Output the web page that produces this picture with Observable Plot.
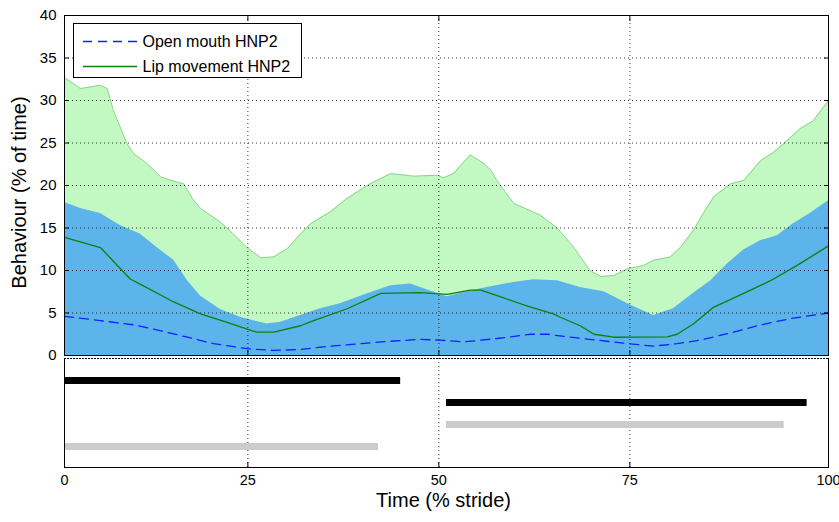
<!DOCTYPE html>
<html><head><meta charset="utf-8">
<script src="https://cdn.jsdelivr.net/npm/d3@7"></script>
<script src="https://cdn.jsdelivr.net/npm/@observablehq/plot@0.6"></script>
<style>
body{margin:0;background:#fff;font-family:"Liberation Sans",Arial,sans-serif;}
#wrap{position:relative;width:839px;height:522px;overflow:hidden;}
#wrap svg{display:block;}
#upper{position:absolute;left:0;top:0;}
#lower{position:absolute;left:0;top:355px;}
#legend{position:absolute;left:73px;top:23px;width:227px;height:53px;border:1px solid #000;background:#fff;}
</style></head>
<body>
<div id="wrap"><div id="upper"></div><div id="lower"></div><div id="legend"></div></div>
<script>
// ---- data (x in stride sample units 1..101) ----
const lipUpperX = [1,3.1,5.7,6.6,7.4,9.2,10.1,11.8,13.6,15.7,16.6,17.8,18.8,21.4,23.1,24.9,26.7,28.4,30.2,31.9,33.2,35.8,38,41,43.7,46.7,49.8,50.6,51.9,54.1,55.9,56.8,57.6,59.8,63.3,65.5,67.6,69.8,71.2,72.9,74.7,76.8,78.1,80.3,81.6,83.3,84.6,86,88.2,89.9,92.1,93.8,95.1,97.3,99,101];
const lipUpperY = [32.7,31.4,31.8,31.4,28.8,24.9,23.7,22.6,21.0,20.4,20.2,18.4,17.3,15.7,14.3,12.7,11.5,11.6,12.6,14.3,15.5,16.9,18.5,20.2,21.4,21.1,21.2,20.9,21.4,23.6,22.6,21.8,20.6,17.9,16.5,15.0,12.8,10.0,9.3,9.4,10.2,10.6,11.2,11.6,12.7,14.7,16.7,18.7,20.2,20.6,22.9,23.9,24.9,26.7,27.6,30.0];

const openUpperX = [1,3.1,5.7,8.3,10.9,13.1,15.3,17.1,18.8,21.4,24,27.5,29.3,31.9,34.5,37.1,40.1,43.7,46.3,48.9,51.1,53.7,56.3,59.8,62.4,65.5,68.5,71.6,74.7,78.1,80.7,83.3,85.6,87.8,89.9,92.1,94.3,96.4,98.6,101];
const openUpperY = [18.0,17.3,16.7,15.3,14.3,12.7,11.2,8.8,7.0,5.4,4.5,3.7,3.9,4.7,5.5,6.1,7.1,8.2,8.4,7.6,6.9,7.5,8.0,8.6,8.9,8.8,8.0,7.5,6.1,4.7,5.5,7.3,8.8,10.8,12.4,13.5,14.1,15.5,16.7,18.2];

const lipMeanX = [1,5.7,9.6,10.9,15.3,18.8,22.3,24.9,26.2,28.4,31.9,33.6,38,42.4,47.6,51.1,54.1,55.5,58.1,61.6,65,65.9,68.5,70.3,72.9,79.9,81.2,83.3,86,89.9,93.4,96.9,101];
const lipMeanY = [13.9,12.7,9.0,8.4,6.3,4.9,3.9,3.1,2.75,2.75,3.5,4.1,5.5,7.3,7.4,7.2,7.7,7.7,6.9,5.8,4.9,4.5,3.5,2.5,2.15,2.2,2.5,3.7,5.7,7.3,8.8,10.6,12.9];

const openMeanX = [1,5.7,10.1,13.6,17.1,20.5,24.9,28.4,31.7,35.8,42.4,47.6,50.2,53.3,57.6,62,64.2,67.2,70.3,74.7,78.1,81.2,84.2,88.6,92.1,96.4,101];
const openMeanY = [4.6,4.1,3.6,2.9,2.15,1.4,0.8,0.6,0.7,1.1,1.6,1.9,1.8,1.6,2.0,2.5,2.5,2.15,1.85,1.4,1.1,1.4,1.8,2.75,3.6,4.4,5.0];

// gait phase bars (lower panel)
const barRow    = [1, 2, 3, 4];
const barStart  = [1, 51, 51, 1];
const barEnd    = [45, 98.2, 95.2, 42.1];
const barSeries = ["Phase A", "Phase A", "Phase B", "Phase B"];

const seriesNames = ["Open mouth HNP2", "Lip movement HNP2"];
const xTickValues = [1, 25, 50, 75, 101];
const xTickLabels = ["0", "25", "50", "75", "100"];
const yTickValues = [0, 5, 10, 15, 20, 25, 30, 35, 40];
const xGridValues = [25, 50, 75];
const yGridValues = [5, 10, 15, 20, 25, 30, 35];
const xLabel = "Time (% stride)";
const yLabel = "Behaviour (% of time)";

const rows = (xs, ys) => xs.map((x, i) => ({x, y: ys[i]}));
const lipUpper = rows(lipUpperX, lipUpperY);
const openUpper = rows(openUpperX, openUpperY);
const lipMean = rows(lipMeanX, lipMeanY);
const openMean = rows(openMeanX, openMeanY);
const bars = barRow.map((r, i) => ({row: r, start: barStart[i], end: barEnd[i], series: barSeries[i]}));

const FONT = "Liberation Sans, Arial, Helvetica, sans-serif";
const GREEN_FILL = "#c2f8c2", BLUE_FILL = "#5cb4eb", GREEN_LINE = "#0b820b", BLUE_LINE = "#1020ff";
const gridStyle = {stroke: "#000", strokeOpacity: 0.8, strokeDasharray: "1,3", strokeWidth: 1};

const upper = Plot.plot({
  width: 839, height: 356, marginLeft: 64, marginRight: 11, marginTop: 15, marginBottom: 1,
  x: {domain: [1, 101], label: null},
  y: {domain: [0, 40], label: null},
  style: {fontFamily: FONT, color: "#000", background: "transparent", overflow: "visible"},
  marks: [
    Plot.areaY(lipUpper, {x: "x", y: "y", fill: GREEN_FILL}),
    Plot.lineY(lipUpper, {x: "x", y: "y", stroke: "#8ad68a", strokeWidth: 1}),
    Plot.areaY(openUpper, {x: "x", y: "y", fill: BLUE_FILL}),
    Plot.gridX(xGridValues, gridStyle),
    Plot.gridY(yGridValues, gridStyle),
    Plot.lineY(lipMean, {x: "x", y: "y", stroke: GREEN_LINE, strokeWidth: 1.3}),
    Plot.lineY(openMean, {x: "x", y: "y", stroke: BLUE_LINE, strokeWidth: 1.3, strokeDasharray: "9,6"}),
    Plot.axisY(yTickValues, {anchor: "left", tickSize: 0, tickPadding: 8, fontSize: 15}),
    Plot.axisY(yTickValues, {anchor: "left", tickSize: -5, text: null}),
    Plot.axisY(yTickValues, {anchor: "right", tickSize: -5, text: null}),
    Plot.axisX(xTickValues, {anchor: "top", tickSize: -5, text: null}),
    Plot.axisX(xTickValues, {anchor: "bottom", tickSize: -5, text: null}),
    Plot.frame({stroke: "#000", strokeWidth: 1}),
    Plot.text([yLabel], {text: d => d, frameAnchor: "left", textAnchor: "middle", rotate: -90, dx: -39, dy: 7, fontSize: 20, lineAnchor: "bottom"})
  ]
});
document.getElementById("upper").appendChild(upper);

const lower = Plot.plot({
  width: 839, height: 167, marginLeft: 64, marginRight: 11, marginTop: 3, marginBottom: 55,
  x: {domain: [1, 101], label: null},
  y: {type: "point", domain: barRow, padding: 0.9, align: 0.51, label: null, axis: null},
  color: {domain: ["Phase A", "Phase B"], range: ["#000000", "#cccccc"]},
  style: {fontFamily: FONT, color: "#000", background: "transparent", overflow: "visible"},
  marks: [
    Plot.gridX(xGridValues, gridStyle),
    Plot.ruleY(bars, {y: "row", x1: "start", x2: "end", stroke: "series", strokeWidth: 7}),
    Plot.axisX(xTickValues, {anchor: "bottom", tickSize: 0, tickPadding: 7, fontSize: 14.5,
      tickFormat: d => xTickLabels[xTickValues.indexOf(d)]}),
    Plot.axisX(xTickValues, {anchor: "bottom", tickSize: -5, text: null}),
    Plot.frame({anchor: "left", stroke: "#000"}),
    Plot.frame({anchor: "right", stroke: "#000"}),
    Plot.frame({anchor: "bottom", stroke: "#000"}),
    Plot.frame({anchor: "top", stroke: "#000", strokeDasharray: "1,2"}),
    Plot.text([xLabel], {text: d => d, frameAnchor: "bottom", dx: -3, dy: 39, fontSize: 20, lineAnchor: "bottom"})
  ]
});
document.getElementById("lower").appendChild(lower);

// legend (inside the upper axes, top-left)
const lg = d3.select("#legend").append("svg").attr("width", 227).attr("height", 53)
  .style("font-family", FONT).style("font-size", "16px");
const legendItems = [
  {name: seriesNames[0], color: BLUE_LINE, dash: "9,6"},
  {name: seriesNames[1], color: GREEN_LINE, dash: null}
];
legendItems.forEach((it, i) => {
  const cy = 17.5 + i * 25;
  lg.append("line").attr("x1", 9).attr("x2", 63).attr("y1", cy).attr("y2", cy)
    .attr("stroke", it.color).attr("stroke-width", 1.3).attr("stroke-dasharray", it.dash);
  lg.append("text").attr("x", 68.5).attr("y", cy).attr("dy", "0.35em").attr("fill", "#000").text(it.name);
});
</script>
</body></html>
